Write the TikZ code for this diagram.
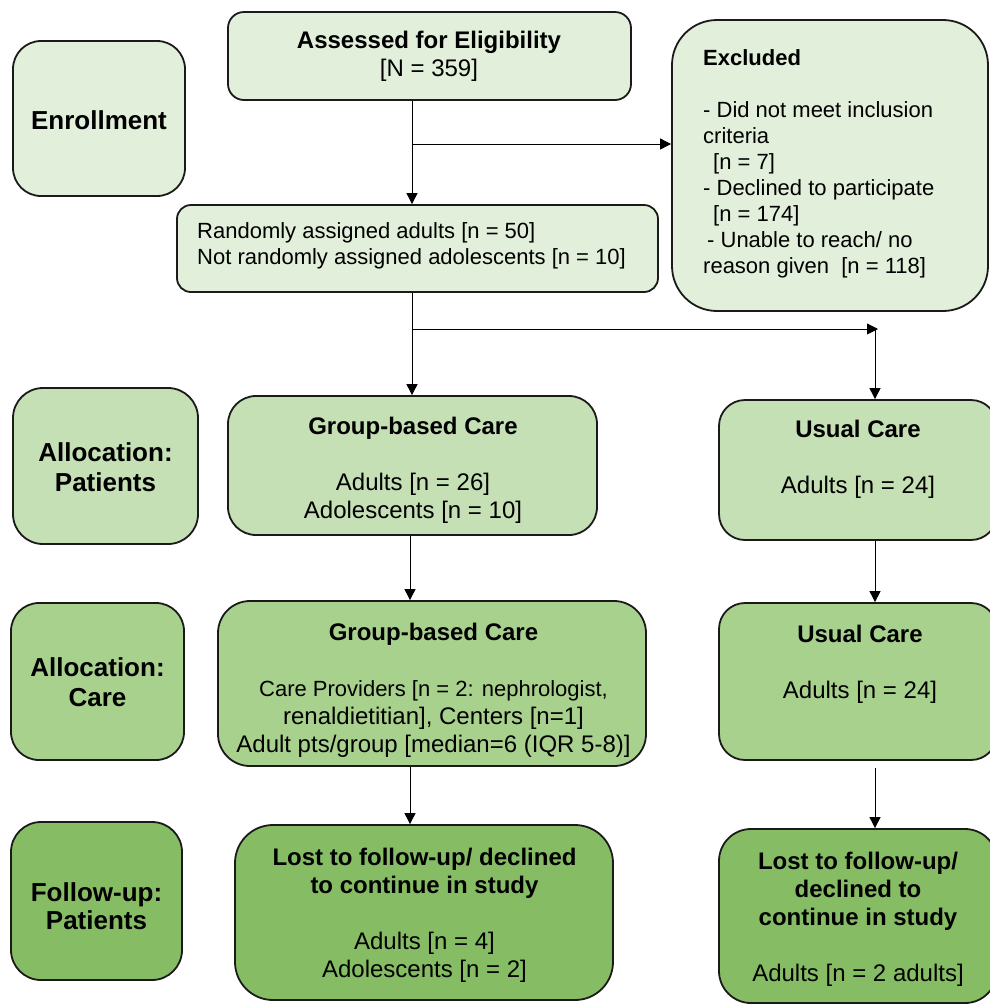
\documentclass[tikz,border=0pt]{standalone}
\usepackage{fontspec}
\setmainfont{Liberation Sans}
\usetikzlibrary{arrows.meta}
\definecolor{cA}{HTML}{E2EFDA}
\definecolor{cB}{HTML}{C5E0B4}
\definecolor{cC}{HTML}{A9D18E}
\definecolor{cD}{HTML}{86BD64}
\definecolor{edge}{HTML}{1A1A1A}
\newcommand{\fA}{\fontsize{22}{26}\selectfont}
\newcommand{\fB}{\fontsize{24}{28}\selectfont}
\newcommand{\fC}{\fontsize{26}{32}\selectfont}
\begin{document}
\begin{tikzpicture}[x=1pt,y=-1pt,
  box/.style={draw=edge,line width=1.8pt,inner sep=0pt,rectangle},
  lbl/.style={inner sep=0pt,align=center,font=\fC\bfseries},
  txt/.style={inner sep=0pt,align=center,anchor=north,font=\fB},
  arr/.style={draw=black,line width=0.9pt,-{Triangle[length=11pt,width=11pt]}}]
\useasboundingbox (0,0) rectangle (990,1005);
\begin{scope}
\clip (0,0) rectangle (990,1005);
% left column labels
\node[box,fill=cA,rounded corners=28pt,minimum width=172pt,minimum height=155pt] (enr) at (99,118.5) {};
\node[lbl] (enrT) at (99,120) {Enrollment};
\node[box,fill=cB,rounded corners=30pt,minimum width=185pt,minimum height=156pt] (alp) at (105.5,466) {};
\node[lbl] (alpT) at (105.5,467) {Allocation:\\[-2pt]Patients};
\node[box,fill=cC,rounded corners=28pt,minimum width=173pt,minimum height=157pt] (alc) at (97.5,681.5) {};
\node[lbl] (alcT) at (97.5,682) {Allocation:\\[-2pt]Care};
\node[box,fill=cD,rounded corners=30pt,minimum width=171pt,minimum height=158pt] (fup) at (96.5,901) {};
\node[lbl] (fupT) at (96.5,906) {Follow-up:\\[-4pt]Patients};
% enrollment boxes
\node[box,fill=cA,rounded corners=16pt,minimum width=403pt,minimum height=88pt] (ass) at (429.5,56) {};
\node[txt] (assT) at (429,31) {\bfseries Assessed for Eligibility\\{}[N = 359]};
\node[box,fill=cA,rounded corners=45pt,minimum width=316pt,minimum height=291pt] (exc) at (830,165.5) {};
\node[txt,align=left,anchor=north west,font=\fA] (excT) at (703,49) {\bfseries Excluded\\[26pt]
- Did not meet inclusion\\
criteria\\
\hspace*{10pt}[n = 7]\\
- Declined to participate\\
\hspace*{10pt}[n = 174]\\
\hspace*{4pt}- Unable to reach/ no\\
reason given\ \ [n = 118]};
\node[box,fill=cA,rounded corners=14pt,minimum width=481pt,minimum height=87pt] (rnd) at (417.5,248.5) {};
\node[txt,align=left,anchor=north west,font=\fA] (rndT) at (197,222) {Randomly assigned adults [n = 50]\\ Not randomly assigned adolescents [n = 10]};
% allocation patients
\node[box,fill=cB,rounded corners=28pt,minimum width=369pt,minimum height=139pt] (gb1) at (412.5,465.5) {};
\node[txt] (gb1T) at (413,417) {\bfseries Group-based Care\\[28pt] Adults [n = 26]\\ Adolescents [n = 10]};
\node[box,fill=cB,rounded corners=26pt,minimum width=278pt,minimum height=140pt] (uc1) at (858,470) {};
\node[txt] (uc1T) at (858,420) {\bfseries Usual Care\\[28pt] Adults [n = 24]};
% allocation care
\node[box,fill=cC,rounded corners=32pt,minimum width=428pt,minimum height=165pt] (gb2) at (432,683.5) {};
\node[txt] (gb2T) at (433.5,623) {\bfseries Group-based Care\\[28pt]\fA Care Providers [n = 2: nephrologist,\\ renaldietitian], Centers [n=1]\\ Adult pts/group [median=6 (IQR 5-8)]};
\node[box,fill=cC,rounded corners=26pt,minimum width=278pt,minimum height=157pt] (uc2) at (858,681.5) {};
\node[txt] (uc2T) at (860,625) {\bfseries Usual Care\\[28pt] Adults [n = 24]};
% follow-up
\node[box,fill=cD,rounded corners=38pt,minimum width=378pt,minimum height=175pt] (ls1) at (424,912.5) {};
\node[txt] (ls1T) at (424.5,848) {\bfseries Lost to follow-up/ declined\\ \bfseries to continue in study\\[28pt] Adults [n = 4]\\ Adolescents [n = 2]};
\node[box,fill=cD,rounded corners=32pt,minimum width=278pt,minimum height=174pt] (ls2) at (858,916) {};
\node[txt] (ls2T) at (858,852) {\bfseries Lost to follow-up/\\ \bfseries declined to\\ \bfseries continue in study\\[28pt] Adults [n = 2 adults]};
% connectors
\coordinate (cL) at (412,0);
\coordinate (cL2) at (410,0);
\coordinate (cR) at (875,0);
\coordinate (j1) at (412,144);
\coordinate (j2) at (412,329);
\coordinate (j3) at (878,329);
\coordinate (j3b) at (875,329);
\draw[arr] (ass.south -| cL) -- (rnd.north -| cL);
\draw[arr] (j1) -- (j1 -| exc.west);
\draw[arr] (rnd.south -| cL) -- (gb1.north -| cL);
\draw[arr] (j2) -- (j3);
\draw[arr] (j3b) -- (uc1.north -| cR);
\draw[arr] (gb1.south -| cL2) -- (gb2.north -| cL2);
\draw[arr] (uc1.south -| cR) -- (uc2.north -| cR);
\draw[arr] (gb2.south -| cL2) -- (ls1.north -| cL2);
\draw[arr] ([yshift=-7pt]uc2.south -| cR) -- (ls2.north -| cR);
\end{scope}
\end{tikzpicture}
\end{document}
